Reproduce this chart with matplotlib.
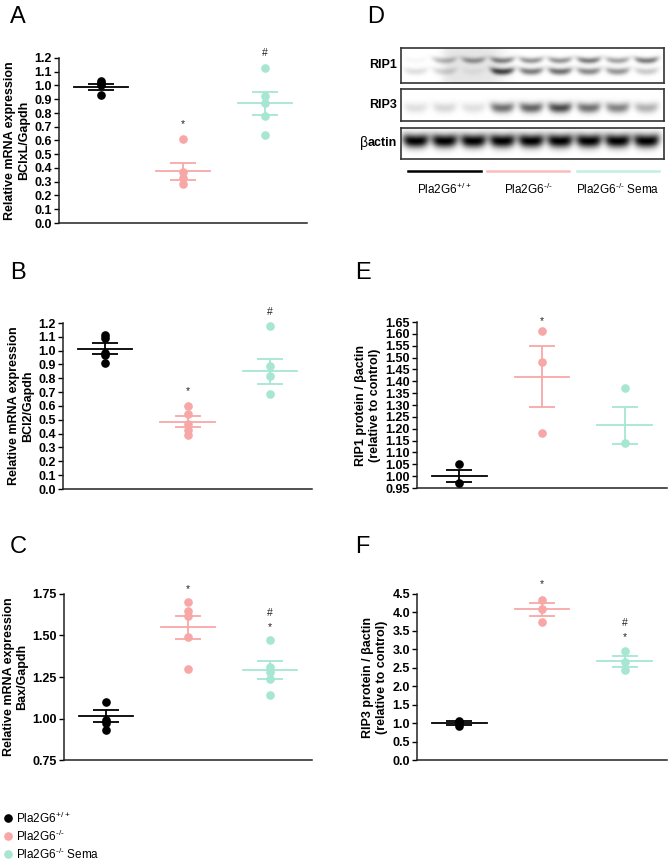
import numpy as np
import matplotlib
matplotlib.use("Agg")
import matplotlib.pyplot as plt
from matplotlib.lines import Line2D

plt.rcParams['font.family'] = ['Liberation Sans', 'DejaVu Sans']
plt.rcParams['mathtext.fontset'] = 'custom'
plt.rcParams['mathtext.rm'] = 'Liberation Sans'
plt.rcParams['mathtext.default'] = 'rm'

W, H = 668, 863
PINK = '#f8a7a7'
TEAL = '#a6e6d2'
COLORS = ['black', PINK, TEAL]
groups = ['Pla2G6$^{+/+}$', 'Pla2G6$^{\u2010/\u2010}$', 'Pla2G6$^{\u2010/\u2010}$ Sema']

# ---- values: points, mean, sem per group ----
A_pts = [[1.03, 1.02, 1.00, 0.93], [0.61, 0.37, 0.33, 0.28], [1.13, 0.92, 0.87, 0.78, 0.64]]
A_mean = [0.99, 0.375, 0.87]
A_sem = [0.022, 0.06, 0.082]

B_pts = [[1.11, 1.09, 0.98, 0.97, 0.91], [0.60, 0.54, 0.47, 0.43, 0.39], [1.18, 0.89, 0.82, 0.69]]
B_mean = [1.015, 0.485, 0.85]
B_sem = [0.04, 0.04, 0.09]

C_pts = [[1.10, 0.99, 0.97, 0.93], [1.70, 1.65, 1.62, 1.49, 1.30], [1.47, 1.31, 1.28, 1.24, 1.14]]
C_mean = [1.015, 1.55, 1.29]
C_sem = [0.035, 0.07, 0.055]

E_pts = [[1.05, 0.97], [1.61, 1.48, 1.18], [1.37, 1.14]]
E_mean = [1.00, 1.42, 1.215]
E_sem = [0.026, 0.127, 0.078]

F_pts = [[1.06, 1.00, 0.93], [4.35, 4.10, 3.75], [2.95, 2.65, 2.43]]
F_mean = [1.00, 4.08, 2.68]
F_sem = [0.05, 0.17, 0.15]

# significance marks: (group, y, symbol)
A_sig = [(1, 0.72, '*'), (2, 1.24, '#')]
B_sig = [(1, 0.71, '*'), (2, 1.28, '#')]
C_sig = [(1, 1.78, '*'), (2, 1.635, '#'), (2, 1.55, '*')]
E_sig = [(1, 1.655, '*')]
F_sig = [(1, 4.77, '*'), (2, 3.72, '#'), (2, 3.33, '*')]

# western blot band darkness per lane (9 lanes)
rip1_upper = [0.03, 0.25, 0.35, 0.45, 0.40, 0.40, 0.50, 0.35, 0.50]
rip1_lower = [0.12, 0.15, 0.05, 0.70, 0.50, 0.55, 0.45, 0.40, 0.20]
rip3_band = [0.12, 0.15, 0.12, 0.55, 0.60, 0.70, 0.55, 0.48, 0.30]
actin_band = [1.0, 1.0, 1.0, 1.0, 1.0, 1.0, 1.0, 1.0, 1.0]


def px_axes(fig, x0, y0, x1, y1):
    return fig.add_axes([x0 / W, 1 - y1 / H, (x1 - x0) / W, (y1 - y0) / H])


def dot_plot(ax, pts, means, sems, ylim, ticks, ticklabels, ylabel, sig):
    for i in range(3):
        c = COLORS[i]
        ax.plot([i] * len(pts[i]), pts[i], 'o', color=c, ms=5.2, clip_on=False, zorder=3)
        ax.plot([i - 0.33, i + 0.33], [means[i]] * 2, color=c, lw=1.3, zorder=2)
        ax.errorbar(i, means[i], yerr=sems[i], color=c, lw=1.3, capsize=9.5,
                    capthick=1.3, zorder=2)
    for g, y, s in sig:
        ax.text(g, y, s, ha='center', va='center', fontsize=7.5, color='#222222')
    ax.set_xlim(-0.51, 2.51)
    ax.set_ylim(*ylim)
    ax.set_yticks(ticks)
    ax.set_yticklabels(ticklabels, fontsize=9, fontweight='bold')
    ax.set_xticks([])
    for s in ['top', 'right']:
        ax.spines[s].set_visible(False)
    for s in ['left', 'bottom']:
        ax.spines[s].set_linewidth(1.1)
        ax.spines[s].set_color('#222222')
    ax.tick_params(axis='y', length=3.5, width=1, pad=1.5)
    ax.set_ylabel(ylabel, fontsize=9, fontweight='bold', labelpad=3, linespacing=1.2)


def band_image(bands, width=300, height=40, half_w=0.045, smudge=None):
    x = np.linspace(0, 1, width)[None, :]
    y = np.linspace(0, 1, height)[:, None]
    img = np.zeros((height, width))
    lanes = np.linspace(0.055, 0.935, 9)
    for vals, yc, hy in bands:
        for xc, v in zip(lanes, vals):
            bend = 0.06 * ((x - xc) / half_w) ** 2
            img += v * np.exp(-((x - xc) / half_w) ** 4) * np.exp(-((y - yc + bend) / hy) ** 2)
    if smudge is not None:
        a, b, v = smudge
        img += v * (1 / (1 + np.exp(-(x - a) / 0.01))) * (1 / (1 + np.exp((x - b) / 0.02))) * np.ones_like(y)
    return np.clip(img, 0, 1)


fig = plt.figure(figsize=(W / 100, H / 100), dpi=100)

axA = px_axes(fig, 59, 58, 307, 223)
dot_plot(axA, A_pts, A_mean, A_sem, (0, 1.2), np.arange(0, 1.21, 0.1),
         ['%.1f' % v for v in np.arange(0, 1.21, 0.1)],
         'Relative mRNA expression\nBClxL/Gapdh', A_sig)

axB = px_axes(fig, 63, 323, 312, 489)
dot_plot(axB, B_pts, B_mean, B_sem, (0, 1.2), np.arange(0, 1.21, 0.1),
         ['%.1f' % v for v in np.arange(0, 1.21, 0.1)],
         'Relative mRNA expression\nBCl2/Gapdh', B_sig)

axC = px_axes(fig, 64, 594, 312, 760)
cticks = [0.75, 1.00, 1.25, 1.50, 1.75]
dot_plot(axC, C_pts, C_mean, C_sem, (0.75, 1.75), cticks, ['%.2f' % v for v in cticks],
         'Relative mRNA expression\nBax/Gapdh', C_sig)

axE = px_axes(fig, 417, 322, 667, 488)
eticks = np.arange(0.95, 1.651, 0.05)
dot_plot(axE, E_pts, E_mean, E_sem, (0.95, 1.65), eticks, ['%.2f' % v for v in eticks],
         'RIP1 protein / βactin\n(relative to control)', E_sig)

axF = px_axes(fig, 417, 594, 667, 760)
fticks = np.arange(0, 4.51, 0.5)
dot_plot(axF, F_pts, F_mean, F_sem, (0, 4.5), fticks, ['%.1f' % v for v in fticks],
         'RIP3 protein / βactin\n(relative to control)', F_sig)

# ---- western blot (panel D) ----
strips = [
    ((48, 83), 'RIP1', band_image([(rip1_upper, 0.36, 0.09), (rip1_lower, 0.68, 0.1)],
                                  smudge=(0.16, 0.38, 0.10))),
    ((89, 121), 'RIP3', band_image([(rip3_band, 0.60, 0.16)])),
    ((128, 159), 'actin', band_image([(actin_band, 0.42, 0.22)], half_w=0.05)),
]
renderer = fig.canvas.get_renderer()
for (y0, y1), name, img in strips:
    ax = px_axes(fig, 401, y0, 664, y1)
    ax.imshow(img, cmap='gray_r', vmin=0, vmax=1, aspect='auto', interpolation='bilinear')
    ax.set_xticks([])
    ax.set_yticks([])
    for s in ax.spines.values():
        s.set_linewidth(1.2)
        s.set_color('#333333')
    t = fig.text(397 / W, 1 - (y0 + y1) / 2 / H, name, ha='right', va='center',
                 fontsize=9, fontweight='bold')
    if name == 'actin':
        bb = t.get_window_extent(renderer)
        fig.text(bb.x0 / W, 1 - (y0 + y1) / 2 / H, 'β', ha='right', va='center', fontsize=10)

blot_groups = [(408, 481), (487, 569), (577, 659)]
line_cols = ['black', '#f9bcbc', '#c3eee0']
for (x0, x1), c, lab in zip(blot_groups, line_cols, groups):
    fig.add_artist(Line2D([x0 / W, x1 / W], [1 - 171 / H] * 2, color=c, lw=1.8))
    fig.text((x0 + x1) / 2 / W, 1 - 189 / H, lab, ha='center', va='center', fontsize=8.5)

# panel letters
for lab, x, y in [('A', 10, 17), ('B', 10, 273), ('C', 10, 547),
                  ('D', 367, 17), ('E', 355, 273), ('F', 355, 547)]:
    fig.text(x / W, 1 - y / H, lab, ha='left', va='center', fontsize=17)

# legend
for k, (c, lab) in enumerate(zip(COLORS, groups)):
    yy = 1 - (818 + 18 * k) / H
    fig.add_artist(Line2D([8 / W], [yy], marker='o', ls='', color=c, ms=5.2))
    fig.text(16 / W, yy, lab, ha='left', va='center', fontsize=8.5)

fig.savefig('out.png', dpi=100)
